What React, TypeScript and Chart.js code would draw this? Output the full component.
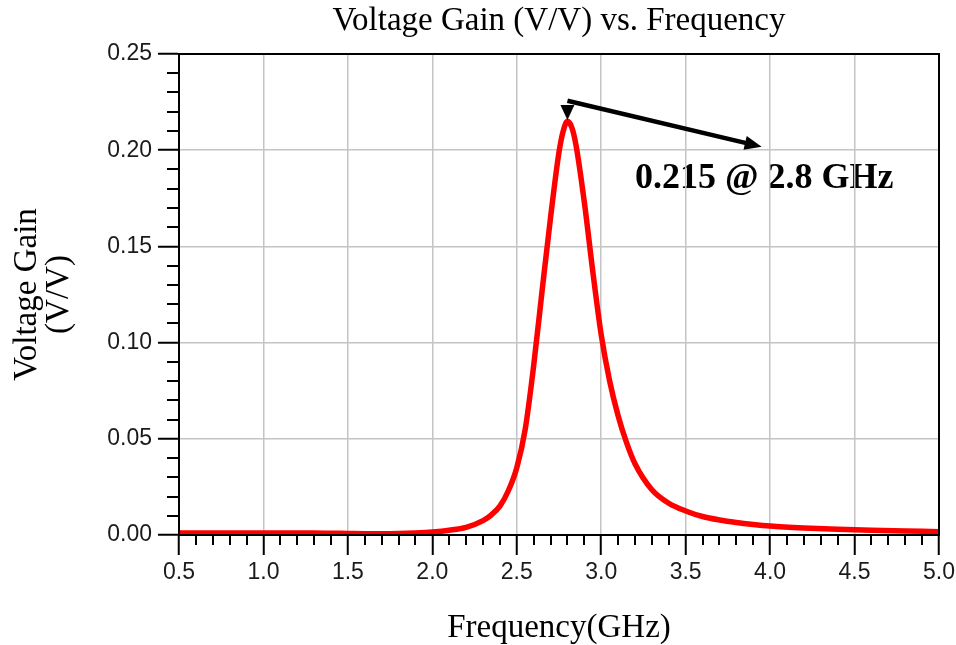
import React, { useEffect, useRef } from "react";
import { Chart, registerables } from "chart.js";

Chart.register(...registerables);

const FREQ_GHZ = [
  0.5, 0.6, 0.7, 0.8, 0.9, 1.0, 1.1, 1.2, 1.3, 1.4, 1.5, 1.6, 1.7, 1.8, 1.9,
  2.0, 2.1, 2.2, 2.3, 2.35, 2.4, 2.45, 2.5, 2.55, 2.6, 2.65, 2.7, 2.75, 2.775,
  2.8, 2.825, 2.85, 2.9, 2.95, 3.0, 3.05, 3.1, 3.15, 3.2, 3.3, 3.4, 3.5, 3.6,
  3.7, 3.8, 3.9, 4.0, 4.2, 4.4, 4.6, 4.8, 5.0,
];
const GAIN_VV = [
  0.0011, 0.0011, 0.0011, 0.0011, 0.0011, 0.0011, 0.0011, 0.001, 0.001, 0.0009,
  0.0008, 0.0007, 0.0007, 0.0008, 0.0011, 0.0016, 0.0025, 0.004, 0.0075, 0.0105,
  0.015, 0.023, 0.035, 0.055, 0.088, 0.127, 0.165, 0.199, 0.21, 0.215, 0.212,
  0.203, 0.173, 0.137, 0.104, 0.08, 0.062, 0.048, 0.037, 0.0235, 0.0165, 0.0125,
  0.0096, 0.0078, 0.0065, 0.0055, 0.0047, 0.0037, 0.003, 0.0025, 0.0021, 0.0017,
];

const TITLE = "Voltage Gain (V/V) vs. Frequency";
const X_TITLE = "Frequency(GHz)";
const Y_TITLE = ["Voltage Gain", "(V/V)"];
const ANNOT_TEXT = "0.215 @ 2.8 GHz";
const ANNOT_TEXT_POS = [3.2, 0.1804];
const ARROW_START = [2.8, 0.2257];
const ARROW_END = [3.95, 0.2018];
const MARKER_TIP = [2.8, 0.2157];

const X_MIN = 0.5, X_MAX = 5.0, X_STEP = 0.5, X_MINOR = 0.1;
const Y_MIN = 0, Y_MAX = 0.25, Y_STEP = 0.05, Y_MINOR = 0.01;

const SERIF = '"Liberation Serif", "Times New Roman", serif';
const SANS = '"Liberation Sans", Arial, sans-serif';

const decorPlugin = {
  id: "decor",
  beforeDraw(chart: any) {
    const { ctx, scales } = chart;
    const x = scales.x, y = scales.y;
    ctx.save();
    ctx.font = `bold 36px ${SERIF}`;
    ctx.fillStyle = "#000";
    ctx.textBaseline = "alphabetic";
    ctx.textAlign = "left";
    ctx.fillText(ANNOT_TEXT, x.getPixelForValue(ANNOT_TEXT_POS[0]), y.getPixelForValue(ANNOT_TEXT_POS[1]));
    ctx.restore();
  },
  afterDatasetsDraw(chart: any) {
    const { ctx, chartArea, scales } = chart;
    const x = scales.x, y = scales.y;
    const { left, right, top, bottom } = chartArea;
    ctx.save();
    ctx.strokeStyle = "#000";
    ctx.lineWidth = 2;
    ctx.strokeRect(left, top, right - left, bottom - top);
    ctx.beginPath();
    const nY = Math.round((Y_MAX - Y_MIN) / Y_MINOR);
    for (let i = 0; i <= nY; i++) {
      if (i % 5 === 0) continue;
      const py = Math.round(y.getPixelForValue(Y_MIN + i * Y_MINOR));
      ctx.moveTo(left - 12, py);
      ctx.lineTo(left, py);
    }
    const nX = Math.round((X_MAX - X_MIN) / X_MINOR);
    for (let i = 0; i <= nX; i++) {
      if (i % 5 === 0) continue;
      const px = Math.round(x.getPixelForValue(X_MIN + i * X_MINOR));
      ctx.moveTo(px, bottom);
      ctx.lineTo(px, bottom + 10);
    }
    ctx.stroke();
    const sx = x.getPixelForValue(ARROW_START[0]);
    const sy = y.getPixelForValue(ARROW_START[1]);
    const ex = x.getPixelForValue(ARROW_END[0]);
    const ey = y.getPixelForValue(ARROW_END[1]);
    const ang = Math.atan2(ey - sy, ex - sx);
    const headLen = 17, headHalf = 7;
    ctx.lineWidth = 4.5;
    ctx.lineCap = "butt";
    ctx.beginPath();
    ctx.moveTo(sx, sy);
    ctx.lineTo(ex - Math.cos(ang) * headLen * 0.8, ey - Math.sin(ang) * headLen * 0.8);
    ctx.stroke();
    ctx.fillStyle = "#000";
    ctx.beginPath();
    ctx.moveTo(ex, ey);
    ctx.lineTo(ex - Math.cos(ang) * headLen - Math.sin(ang) * headHalf, ey - Math.sin(ang) * headLen + Math.cos(ang) * headHalf);
    ctx.lineTo(ex - Math.cos(ang) * headLen + Math.sin(ang) * headHalf, ey - Math.sin(ang) * headLen - Math.cos(ang) * headHalf);
    ctx.closePath();
    ctx.fill();
    const tx = x.getPixelForValue(MARKER_TIP[0]);
    const ty = y.getPixelForValue(MARKER_TIP[1]);
    ctx.beginPath();
    ctx.moveTo(tx, ty);
    ctx.lineTo(tx - 7, ty - 15);
    ctx.lineTo(tx + 7, ty - 15);
    ctx.closePath();
    ctx.fill();
    ctx.restore();
  },
};

export default function App() {
  const ref = useRef<HTMLCanvasElement | null>(null);
  useEffect(() => {
    document.body.style.margin = "0";
    const canvas = ref.current!;
    const chart = new Chart(canvas, {
      type: "line",
      data: {
        datasets: [
          {
            data: FREQ_GHZ.map((f, i) => ({ x: f, y: GAIN_VV[i] })),
            borderColor: "#ff0000",
            borderWidth: 5.5,
            pointRadius: 0,
            cubicInterpolationMode: "monotone",
            fill: false,
          },
        ],
      },
      options: {
        responsive: false,
        animation: false,
        devicePixelRatio: 1,
        layout: { padding: { left: 0, right: 17, top: 0, bottom: 0 } },
        plugins: {
          legend: { display: false },
          tooltip: { enabled: false },
          title: {
            display: true,
            fullSize: false,
            text: TITLE,
            color: "#000",
            font: { family: SERIF, size: 33, weight: "normal", lineHeight: 1 },
            padding: { top: 5, bottom: 16 },
          },
        },
        scales: {
          x: {
            type: "linear",
            min: X_MIN,
            max: X_MAX,
            afterFit: (s: any) => { s.height = 110; s.paddingRight = 0; s.paddingLeft = 0; },
            ticks: {
              stepSize: X_STEP,
              color: "#1a1a1a",
              font: { family: SANS, size: 23 },
              padding: 4,
              maxRotation: 0,
              callback: (v: any) => Number(v).toFixed(1),
            },
            grid: {
              color: "#c4c4c4",
              lineWidth: 1.5,
              tickColor: "#000",
              tickWidth: 2,
              tickLength: 20,
            },
            border: { display: true, color: "#000", width: 2 },
            title: {
              display: true,
              text: X_TITLE,
              color: "#000",
              font: { family: SERIF, size: 33, lineHeight: 1 },
              padding: { top: 0, bottom: 0 },
            },
          },
          y: {
            type: "linear",
            min: Y_MIN,
            max: Y_MAX,
            afterFit: (s: any) => { s.width = 179; },
            ticks: {
              stepSize: Y_STEP,
              color: "#1a1a1a",
              font: { family: SANS, size: 23 },
              padding: 6,
              callback: (v: any) => Number(v).toFixed(2),
            },
            grid: {
              color: "#c4c4c4",
              lineWidth: 1.5,
              tickColor: "#000",
              tickWidth: 2,
              tickLength: 21,
            },
            border: { display: true, color: "#000", width: 2 },
            title: {
              display: true,
              text: Y_TITLE,
              color: "#000",
              font: { family: SERIF, size: 33, lineHeight: 0.95 },
              padding: { top: 12, bottom: 0 },
            },
          },
        },
      },
      plugins: [decorPlugin],
    } as any);
    return () => chart.destroy();
  }, []);
  return (
    <div style={{ position: "absolute", left: 0, top: 0, width: 956, height: 645 }}>
      <canvas ref={ref} width={956} height={645} />
    </div>
  );
}
